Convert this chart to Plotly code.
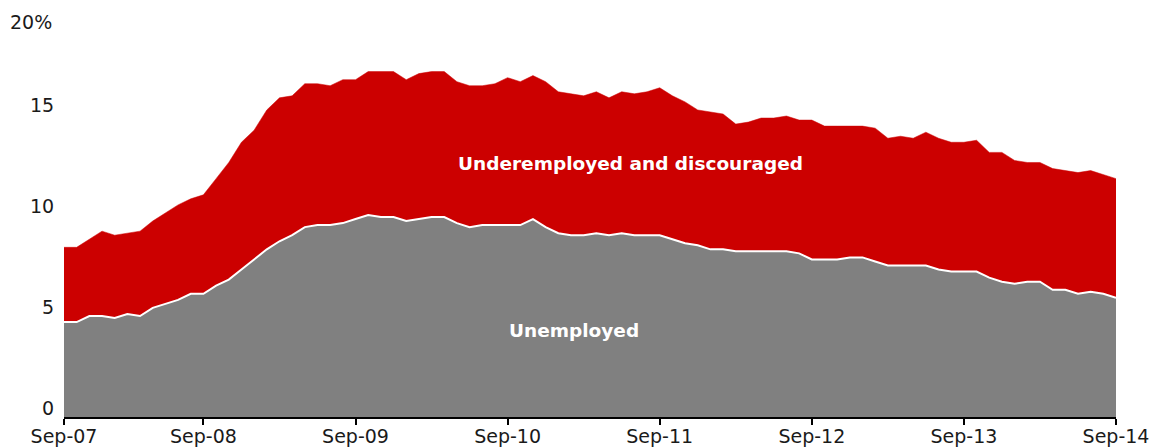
import plotly.graph_objects as go

# Monthly categories, Oct-07 .. Sep-14
month_names = ["Jan", "Feb", "Mar", "Apr", "May", "Jun", "Jul", "Aug", "Sep", "Oct", "Nov", "Dec"]
months = [f"{month_names[m]}-{y % 100:02d}" for y in range(2007, 2015) for m in range(12)
          if (y, m) >= (2007, 9) and (y, m) <= (2014, 8)]

# Unemployed (%)
unemployed = [
    4.7, 4.7, 5.0,
    5.0, 4.9, 5.1, 5.0, 5.4, 5.6, 5.8, 6.1, 6.1, 6.5, 6.8, 7.3,
    7.8, 8.3, 8.7, 9.0, 9.4, 9.5, 9.5, 9.6, 9.8, 10.0, 9.9, 9.9,
    9.7, 9.8, 9.9, 9.9, 9.6, 9.4, 9.5, 9.5, 9.5, 9.5, 9.8, 9.4,
    9.1, 9.0, 9.0, 9.1, 9.0, 9.1, 9.0, 9.0, 9.0, 8.8, 8.6, 8.5,
    8.3, 8.3, 8.2, 8.2, 8.2, 8.2, 8.2, 8.1, 7.8, 7.8, 7.8, 7.9,
    7.9, 7.7, 7.5, 7.5, 7.5, 7.5, 7.3, 7.2, 7.2, 7.2, 6.9, 6.7,
    6.6, 6.7, 6.7, 6.3, 6.3, 6.1, 6.2, 6.1, 5.9,
]

# Unemployed + underemployed and discouraged (%)
total_underutilised = [
    8.4, 8.4, 8.8,
    9.2, 9.0, 9.1, 9.2, 9.7, 10.1, 10.5, 10.8, 11.0, 11.8, 12.6, 13.6,
    14.2, 15.2, 15.8, 15.9, 16.5, 16.5, 16.4, 16.7, 16.7, 17.1, 17.1, 17.1,
    16.7, 17.0, 17.1, 17.1, 16.6, 16.4, 16.4, 16.5, 16.8, 16.6, 16.9, 16.6,
    16.1, 16.0, 15.9, 16.1, 15.8, 16.1, 16.0, 16.1, 16.3, 15.9, 15.6, 15.2,
    15.1, 15.0, 14.5, 14.6, 14.8, 14.8, 14.9, 14.7, 14.7, 14.4, 14.4, 14.4,
    14.4, 14.3, 13.8, 13.9, 13.8, 14.1, 13.8, 13.6, 13.6, 13.7, 13.1, 13.1,
    12.7, 12.6, 12.6, 12.3, 12.2, 12.1, 12.2, 12.0, 11.8,
]

tick_positions = ["Oct-07", "Sep-08", "Sep-09", "Sep-10", "Sep-11", "Sep-12", "Sep-13", "Sep-14"]
tick_labels = ["Sep-07", "Sep-08", "Sep-09", "Sep-10", "Sep-11", "Sep-12", "Sep-13", "Sep-14"]
y_ticks = [0, 5, 10, 15]
y_tick_labels = ["0", "5", "10", "15"]
y_top_label = "20%"

FONT = "DejaVu Sans, Verdana, sans-serif"
TXT = "#1a1a1a"

fig = go.Figure()
fig.add_trace(go.Scatter(
    x=months, y=total_underutilised, mode="lines", fill="tozeroy",
    fillcolor="#CC0000", line=dict(color="#CC0000", width=0.5),
    hoverinfo="skip", showlegend=False,
))
fig.add_trace(go.Scatter(
    x=months, y=unemployed, mode="lines", fill="tozeroy",
    fillcolor="#808080", line=dict(color="#FFFFFF", width=2),
    hoverinfo="skip", showlegend=False,
))

annotations = [
    dict(text=lab, xref="paper", yref="y", x=0, y=v, xanchor="right", yanchor="middle",
         xshift=-8, yshift=9, showarrow=False, font=dict(family=FONT, size=19, color=TXT))
    for v, lab in zip(y_ticks, y_tick_labels)
]
annotations += [
    dict(text=y_top_label, xref="paper", yref="paper", x=0, y=(417 - 22) / 404,
         xanchor="right", yanchor="middle", xshift=-10, showarrow=False,
         font=dict(family=FONT, size=19, color=TXT)),
    dict(text="<b>Underemployed and discouraged</b>", xref="paper", yref="paper",
         x=0.5385, y=0.6287, xanchor="center", yanchor="middle", showarrow=False,
         font=dict(family=FONT, size=18.5, color="white")),
    dict(text="<b>Unemployed</b>", xref="paper", yref="paper",
         x=0.4848, y=0.2129, xanchor="center", yanchor="middle", showarrow=False,
         font=dict(family=FONT, size=18.5, color="white")),
]

fig.update_layout(
    width=1157, height=448,
    margin=dict(l=56, r=49, t=5, b=39),
    paper_bgcolor="white", plot_bgcolor="white",
    font=dict(family=FONT, size=19, color=TXT),
    xaxis=dict(
        type="category", range=[0, len(months) - 1], automargin=False,
        tickmode="array", tickvals=tick_positions, ticktext=tick_labels,
        showline=True, linecolor="black", linewidth=2,
        ticks="outside", ticklen=6, tickwidth=2, tickcolor="black",
        ticklabelstandoff=-5,
        showgrid=False, zeroline=False,
        tickfont=dict(family=FONT, size=19, color=TXT),
    ),
    yaxis=dict(
        range=[0, 20], automargin=False,
        showgrid=False, zeroline=False, showline=False, ticks="",
        showticklabels=False,
    ),
    annotations=annotations,
)

fig.write_html("out.html")
